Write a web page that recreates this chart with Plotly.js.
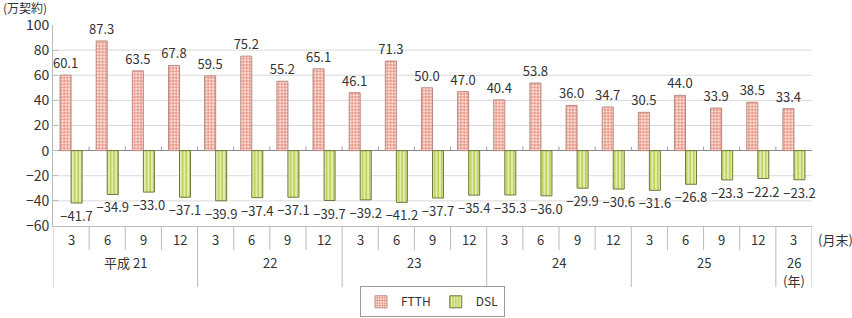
<!DOCTYPE html>
<html><head><meta charset="utf-8">
<script src="https://cdn.plot.ly/plotly-3.0.1.min.js"></script>
<style>html,body{margin:0;padding:0;background:#fff}#c{width:852px;height:318px}</style>
</head><body><div id="c"></div>
<script>
const months = [3,6,9,12, 3,6,9,12, 3,6,9,12, 3,6,9,12, 3,6,9,12, 3];
const yearLabels = ["平成 21","22","23","24","25","26"];
const yearCounts = [4,4,4,4,4,1];
const yearUnit = "(年)";
const ftth = [60.1,87.3,63.5,67.8, 59.5,75.2,55.2,65.1, 46.1,71.3,50.0,47.0, 40.4,53.8,36.0,34.7, 30.5,44.0,33.9,38.5, 33.4];
const dsl = [-41.7,-34.9,-33.0,-37.1, -39.9,-37.4,-37.1,-39.7, -39.2,-41.2,-37.7,-35.4, -35.3,-36.0,-29.9,-30.6, -31.6,-26.8,-23.3,-22.2, -23.2];
const gridVals = [-40,-20,20,40,60,80];
const yTicks = [-60,-40,-20,0,20,40,60,80,100];

const FONT = '"Noto Sans CJK JP", "Noto Sans", sans-serif';
const TXT = '#333333';
const xs = months.map((m,i)=>i);
const fmt = v => (v<0 ? '\u2212' : '') + Math.abs(v).toFixed(1);
const fmtTick = v => (v<0 ? '\u2212' : '') + Math.abs(v);

const traces = [
  {type:'bar', name:'FTTH', x:xs, y:ftth, text:ftth.map(fmt), textposition:'outside',
   cliponaxis:false, constraintext:'none',
   textfont:{family:FONT,size:13,color:TXT},
   marker:{color:'#f6d9d0', line:{color:'#b98a85',width:1},
     pattern:{shape:'+', fgcolor:'#e0705c', bgcolor:'#fbe6df', size:3.2, solidity:0.38, fillmode:'replace'}}},
  {type:'bar', name:'DSL', x:xs, y:dsl, text:dsl.map(fmt), textposition:'outside',
   cliponaxis:false, constraintext:'none',
   textfont:{family:FONT,size:13,color:TXT},
   marker:{color:'#c6d76c', line:{color:'#6f7a3c',width:1},
     pattern:{shape:'|', fgcolor:'#eef3c6', bgcolor:'#bfd25e', size:3.6, solidity:0.4, fillmode:'replace'}}}
];

const shapes = [];
const annotations = [];
gridVals.forEach(v=>shapes.push({type:'line', layer:'below', xref:'paper', x0:0, x1:1, yref:'y', y0:v, y1:v, line:{color:'#d9d9d9', width:1}}));
for (let i=0;i<months.length-1;i++){
  shapes.push({type:'line', xref:'x', x0:i+0.5, x1:i+0.5, yref:'y', ysizemode:'pixel', yanchor:0, y0:0, y1:4, line:{color:'#999999', width:1}});
}
months.forEach((m,i)=>annotations.push({xref:'x', x:i, yref:'paper', y:0, yanchor:'top', yshift:-2, text:String(m), showarrow:false, font:{family:FONT,size:13,color:TXT}}));
let start = 0;
const yearBounds = [-0.5];
yearCounts.forEach((c,k)=>{
  for (let j=1;j<c;j++){
    shapes.push({type:'line', xref:'x', x0:start+j-0.5, x1:start+j-0.5, yref:'paper', ysizemode:'pixel', yanchor:0, y0:0, y1:-24, line:{color:'#bbbbbb', width:1}});
  }
  annotations.push({xref:'x', x:start+(c-1)/2, yref:'paper', y:0, yanchor:'top', yshift:-25, text:yearLabels[k], showarrow:false, font:{family:FONT,size:13,color:TXT}});
  if (k===yearCounts.length-1){
    annotations.push({xref:'x', x:start+(c-1)/2, yref:'paper', y:0, yanchor:'top', yshift:-43, text:yearUnit, showarrow:false, font:{family:FONT,size:13,color:TXT}});
  }
  start += c;
  yearBounds.push(start-0.5);
});
yearBounds.forEach(b=>shapes.push({type:'line', xref:'x', x0:b, x1:b, yref:'paper', ysizemode:'pixel', yanchor:0, y0:0, y1:-61, line:{color:'#bbbbbb', width:1}}));

annotations.push({xref:'paper', x:1, xanchor:'left', xshift:4, yref:'paper', y:0, yanchor:'top', yshift:-2, text:'(月末)', showarrow:false, font:{family:FONT,size:13,color:TXT}});
annotations.push({xref:'paper', x:0, xanchor:'left', xshift:-52, yref:'paper', y:1, yanchor:'middle', yshift:18, text:'(万契約)', showarrow:false, font:{family:FONT,size:12,color:TXT}});

const layout = {
  width:852, height:318,
  margin:{l:53, r:40, t:25, b:92, autoexpand:false},
  paper_bgcolor:'#fff', plot_bgcolor:'#fff',
  font:{family:FONT, size:13, color:TXT},
  barmode:'group', bargap:0.39, bargroupgap:0,
  showlegend:true,
  legend:{orientation:'h', x:0.5, xanchor:'center', y:-0.3, yanchor:'top', bordercolor:'#999999', borderwidth:1,
    font:{family:FONT,size:12,color:TXT}, itemwidth:30, tracegroupgap:0},
  xaxis:{type:'linear', range:[-0.5, months.length-0.5], showticklabels:false, ticks:'', showgrid:false, zeroline:false,
    showline:true, linecolor:'#bbbbbb', linewidth:1, fixedrange:true},
  yaxis:{range:[-60,100], tickvals:yTicks, ticktext:yTicks.map(fmtTick), ticks:'inside', ticklen:5, tickcolor:'#bbbbbb',
    showline:true, linecolor:'#bbbbbb', linewidth:1, showgrid:false, zeroline:true, zerolinecolor:'#888888', zerolinewidth:1,
    tickfont:{family:FONT,size:14,color:TXT}, fixedrange:true},
  shapes:shapes, annotations:annotations
};
Plotly.newPlot('c', traces, layout, {displayModeBar:false, staticPlot:true});
</script></body></html>
